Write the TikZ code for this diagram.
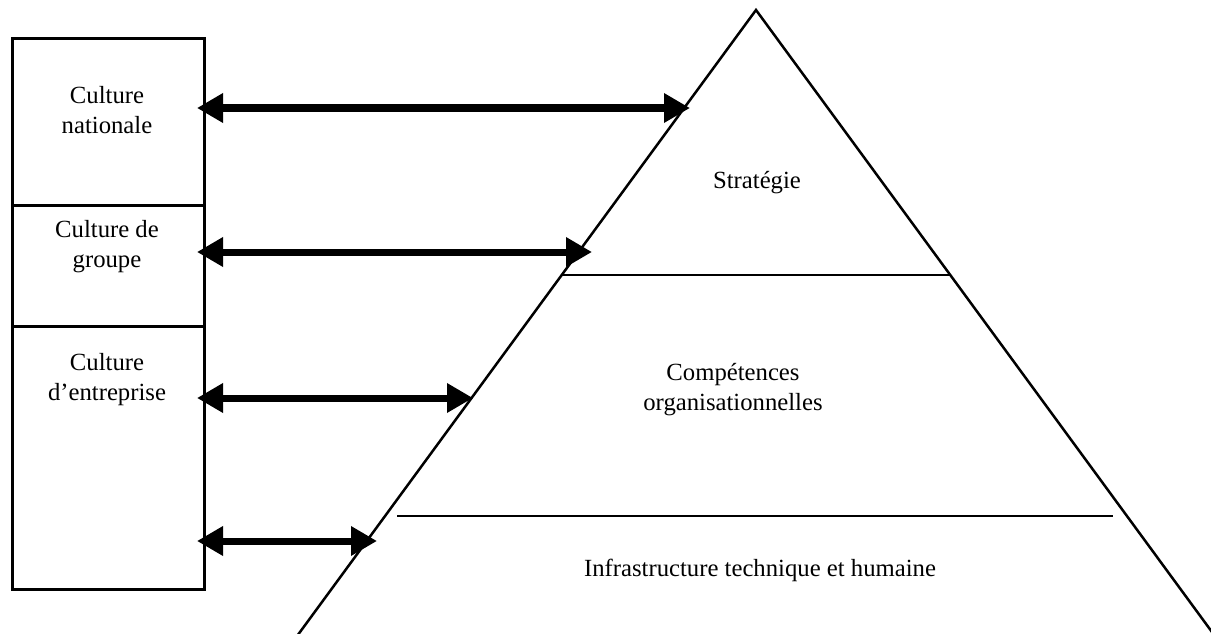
\documentclass[tikz,border=0pt]{standalone}
\usepackage{fontspec}
\setmainfont{Liberation Serif}
\usetikzlibrary{arrows.meta}
\begin{document}
\begin{tikzpicture}[x=1pt,y=-1pt,
  lbl/.style={font=\fontsize{24.7}{30}\selectfont, align=center, inner sep=0pt},
  sect/.style={draw, line width=3pt, minimum width=192pt, inner sep=0pt, anchor=north west},
  link/.style={line width=7pt, {Triangle[length=26pt,width=28pt]}-{Triangle[length=26pt,width=28pt]}},
  tri/.style={line width=2.5pt}]
\useasboundingbox (0,0) rectangle (1211,634);
\clip (0,0) rectangle (1211,634);
% left column
\node[sect, minimum height=167pt] (s1) at (11,37) {};
\node[sect, minimum height=121pt] (s2) at (11,204) {};
\node[sect, minimum height=263pt] (s3) at (11,325) {};
\node[lbl] (c1) at (107,110) {Culture\\nationale};
\node[lbl] (c2) at (107,247) {Culture de\\groupe};
\node[lbl] (c3) at (107,380) {Culture\\d’entreprise};
% pyramid
\coordinate (apex) at (756,10);
\coordinate (bl) at (279.5,660);
\coordinate (br) at (1232.5,660);
\draw[tri] (bl) -- (apex) -- (br);
\coordinate (h1l) at (562,275);
\coordinate (h1r) at (950,275);
\coordinate (h2l) at (397,516);
\coordinate (h2r) at (1113,516);
\draw[tri] (h1l) -- (h1r);
\draw[tri] (h2l) -- (h2r);
\node[lbl] (p1) at (757,183) {Stratégie};
\node[lbl] (p2) at (733,390) {Compétences\\organisationnelles};
\node[lbl] (p3) at (760,570) {Infrastructure technique et humaine};
% arrows
\coordinate (a1s) at (197,108);
\coordinate (a1e) at (690,108);
\coordinate (a2s) at (197,252);
\coordinate (a2e) at (592,252);
\coordinate (a3s) at (197,398);
\coordinate (a3e) at (473,398);
\coordinate (a4s) at (197,541);
\coordinate (a4e) at (377,541);
\draw[link] (a1s) -- (a1e);
\draw[link] (a2s) -- (a2e);
\draw[link] (a3s) -- (a3e);
\draw[link] (a4s) -- (a4e);
\end{tikzpicture}
\end{document}
